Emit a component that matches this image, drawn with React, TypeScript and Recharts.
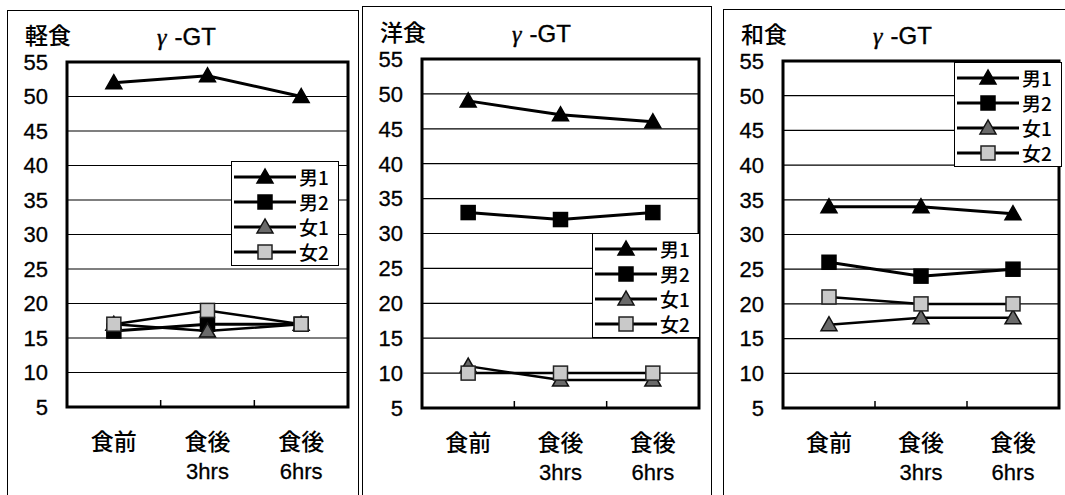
import {
  LineChart,
  Line,
  XAxis,
  YAxis,
  CartesianGrid,
  ReferenceArea,
} from "recharts";

const categories = ["食前", "食後", "食後"];
const subLabels = ["", "3hrs", "6hrs"];
const seriesNames = ["男1", "男2", "女1", "女2"];
const yTicks = [5, 10, 15, 20, 25, 30, 35, 40, 45, 50, 55];
const panelTitles = ["軽食", "洋食", "和食"];
const titleGreek = "γ";
const titleRest = "-GT";

// 軽食
const lightM1 = [52, 53, 50];
const lightM2 = [16, 17, 17];
const lightF1 = [17, 16, 17];
const lightF2 = [17, 19, 17];
// 洋食
const westM1 = [49, 47, 46];
const westM2 = [33, 32, 33];
const westF1 = [11, 9, 9];
const westF2 = [10, 10, 10];
// 和食
const japM1 = [34, 34, 33];
const japM2 = [26, 24, 25];
const japF1 = [17, 18, 18];
const japF2 = [21, 20, 20];

const panelValues = [
  [lightM1, lightM2, lightF1, lightF2],
  [westM1, westM2, westF1, westF2],
  [japM1, japM2, japF1, japF2],
];

// page geometry of each panel (frame, title, plot box, legend box)
const layout = [
  { left: 7, top: 10, right: 359, titleTop: 23, plot: [67, 62, 348, 407], legend: [231, 161] },
  { left: 362, top: 6, right: 712, titleTop: 20, plot: [422, 59, 699, 408], legend: [592, 233] },
  { left: 723, top: 9, right: 1066, titleTop: 22, plot: [783, 61, 1059, 408], legend: [954, 62] },
];

const STYLES = [
  { shape: "tri", fill: "#000", stroke: "#000", width: 3 },
  { shape: "sq", fill: "#000", stroke: "#000", width: 3 },
  { shape: "tri", fill: "#6a6a6a", stroke: "#111", width: 2.5 },
  { shape: "sq", fill: "#c9c9c9", stroke: "#222", width: 2.5 },
];

const NUM_FONT = "'Liberation Sans', Arial, sans-serif";
const JP_FONT = "'Noto Sans CJK JP', 'Liberation Sans', sans-serif";
const Y_W = 40;
const X_H = 70;

function Marker({ cx, cy, s }: { cx: number; cy: number; s: (typeof STYLES)[number] }) {
  if (s.shape === "tri") {
    return (
      <polygon
        points={`${cx},${cy - 8} ${cx - 8},${cy + 6} ${cx + 8},${cy + 6}`}
        fill={s.fill}
        stroke={s.stroke}
        strokeWidth={1.5}
      />
    );
  }
  return (
    <rect x={cx - 7} y={cy - 7} width={14} height={14} fill={s.fill} stroke={s.stroke} strokeWidth={1.5} />
  );
}

function XTick(props: any) {
  const { x, y, payload, bw } = props;
  const i = payload.index;
  return (
    <g>
      {i < categories.length - 1 && (
        <line x1={x + bw / 2} y1={y} x2={x + bw / 2} y2={y - 7} stroke="#000" strokeWidth={1.5} />
      )}
      <text
        x={x}
        y={y + 43}
        textAnchor="middle"
        fontSize={23}
        fontFamily={JP_FONT}
        fontWeight={500}
        fill="#000"
      >
        {categories[i]}
      </text>
      <text
        x={x}
        y={y + 72}
        textAnchor="middle"
        fontSize={22}
        fontFamily={NUM_FONT}
        fill="#000"
        stroke="#000"
        strokeWidth={0.3}
      >
        {subLabels[i]}
      </text>
    </g>
  );
}

function LegendBox({ left, top }: { left: number; top: number }) {
  return (
    <div
      style={{
        position: "absolute",
        left,
        top,
        width: 108,
        height: 105,
        border: "1.5px solid #000",
        background: "#fff",
        boxSizing: "border-box",
        paddingTop: 2,
      }}
    >
      {seriesNames.map((n, i) => (
        <div key={n} style={{ display: "flex", alignItems: "center", height: 25 }}>
          <svg width={66} height={22}>
            <line x1={2} y1={11} x2={64} y2={11} stroke="#000" strokeWidth={3} />
            <Marker cx={33} cy={11} s={STYLES[i]} />
          </svg>
          <span style={{ fontFamily: JP_FONT, fontSize: 19, fontWeight: 500, lineHeight: 1, marginLeft: 1 }}>
            {n}
          </span>
        </div>
      ))}
    </div>
  );
}

function Panel({ idx }: { idx: number }) {
  const L = layout[idx];
  const [pl, pt, pr, pb] = L.plot;
  const chartW = L.right - L.left;
  const bw = (pr - pl) / categories.length;
  const values = panelValues[idx];
  const data = categories.map((c, i) => {
    const row: Record<string, any> = { name: c + subLabels[i] };
    seriesNames.forEach((s, k) => (row[s] = values[k][i]));
    return row;
  });
  const margin = {
    top: pt,
    left: pl - L.left - Y_W,
    right: L.left + chartW - pr,
    bottom: 495 - pb - X_H,
  };
  return (
    <>
      <div
        style={{
          position: "absolute",
          left: L.left,
          top: L.top,
          width: L.right - L.left,
          height: 495 - L.top + 5,
          borderLeft: "1.5px solid #000",
          borderTop: "1.5px solid #000",
          borderRight: "1.5px solid #000",
          boxSizing: "border-box",
        }}
      />
      <div
        style={{
          position: "absolute",
          left: L.left + 18,
          top: L.titleTop,
          fontFamily: JP_FONT,
          fontSize: 23,
          fontWeight: 500,
          lineHeight: 1,
        }}
      >
        {panelTitles[idx]}
      </div>
      <div
        style={{
          position: "absolute",
          left: L.left + 150,
          top: L.titleTop + 2,
          fontFamily: NUM_FONT,
          fontSize: 24,
          lineHeight: 1,
          WebkitTextStroke: "0.4px #000",
          whiteSpace: "nowrap",
        }}
      >
        <span style={{ fontFamily: "'Liberation Serif', serif", fontStyle: "italic", marginRight: 8 }}>
          {titleGreek}
        </span>
        <span>{titleRest}</span>
      </div>
      <div style={{ position: "absolute", left: L.left, top: 0 }}>
        <LineChart width={chartW} height={495} data={data} margin={margin}>
          <CartesianGrid vertical={false} stroke="#000" strokeWidth={1.2} />
          <XAxis
            dataKey="name"
            scale="band"
            height={X_H}
            axisLine={false}
            tickLine={false}
            tickSize={0}
            tickMargin={0}
            interval={0}
            tick={<XTick bw={bw} />}
          />
          <YAxis
            domain={[5, 55]}
            ticks={yTicks}
            width={Y_W}
            axisLine={false}
            tickLine={false}
            tickSize={0}
            tickMargin={19}
            interval={0}
            tick={{ fill: "#000", stroke: "#000", strokeWidth: 0.3, fontSize: 22, fontFamily: NUM_FONT }}
          />
          <ReferenceArea
            x1={data[0].name}
            x2={data[data.length - 1].name}
            y1={5}
            y2={55}
            ifOverflow="visible"
            fill="none"
            fillOpacity={0}
            stroke="#000"
            strokeWidth={3}
          />
          {seriesNames.map((s, k) => (
            <Line
              key={s}
              dataKey={s}
              stroke="#000"
              strokeWidth={STYLES[k].width}
              isAnimationActive={false}
              dot={(p: any) => <Marker key={`${s}-${p.index}`} cx={p.cx} cy={p.cy} s={STYLES[k]} />}
            />
          ))}
        </LineChart>
      </div>
      <LegendBox left={L.legend[0]} top={L.legend[1]} />
    </>
  );
}

export default function App() {
  return (
    <div
      style={{
        position: "absolute",
        left: 0,
        top: 0,
        width: 1065,
        height: 495,
        background: "#fff",
        overflow: "hidden",
      }}
    >
      {panelTitles.map((_, i) => (
        <Panel key={i} idx={i} />
      ))}
    </div>
  );
}
